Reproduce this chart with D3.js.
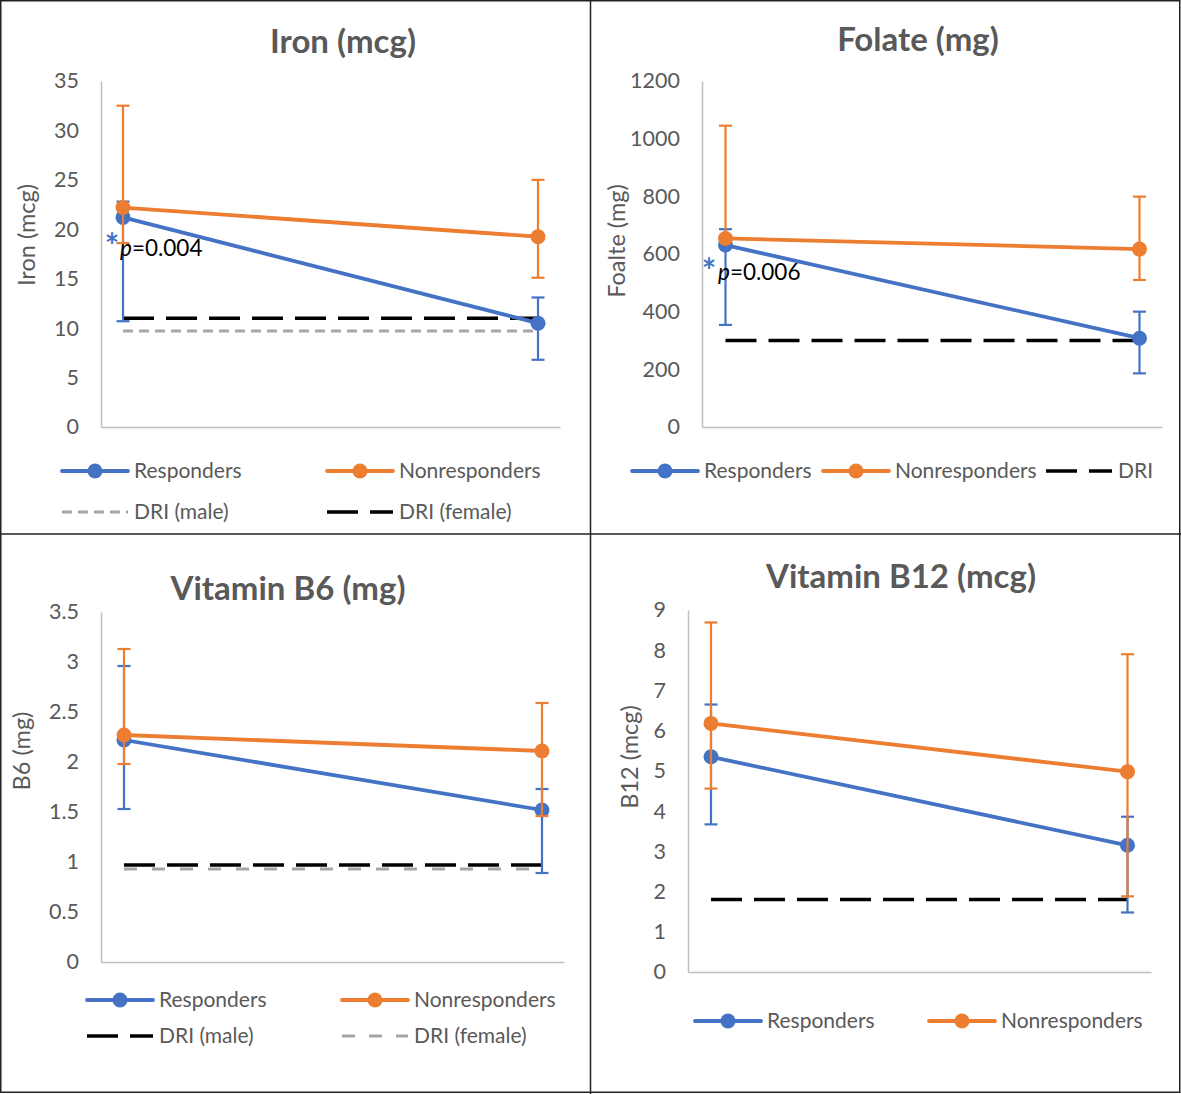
<!DOCTYPE html>
<html>
<head>
<meta charset="utf-8">
<script src="https://cdn.jsdelivr.net/npm/d3@7"></script>
<style>
  html, body { margin: 0; padding: 0; background: #fff; }
  svg { display: block; }
  text { font-family: "Lato", "Open Sans", sans-serif; }
</style>
</head>
<body>
<svg id="chart" width="1181" height="1094"></svg>
<script>
// ---------------- DATA ----------------
const timepoints = ["Baseline", "Follow-up"];
const seriesNames = ["Responders", "Nonresponders"];

// Iron (mcg)
const ironTicks = [0, 5, 10, 15, 20, 25, 30, 35];
const ironResponders = [21.2, 10.5];
const ironRespLow = [10.7, 6.8];
const ironRespHigh = [22.8, 13.1];
const ironNonresponders = [22.2, 19.25];
const ironNonLow = [18.6, 15.1];
const ironNonHigh = [32.5, 25.0];
const ironDRImale = 9.7;
const ironDRIfemale = 11.0;

// Folate (mg)
const folateTicks = [0, 200, 400, 600, 800, 1000, 1200];
const folateResponders = [631, 308];
const folateRespLow = [354, 186];
const folateRespHigh = [686, 400];
const folateNonresponders = [654, 617];
const folateNonLow = [null, 510];
const folateNonHigh = [1045, 799];
const folateDRI = 300;

// Vitamin B6 (mg)
const b6Ticks = [0, 0.5, 1, 1.5, 2, 2.5, 3, 3.5];
const b6Responders = [2.22, 1.52];
const b6RespLow = [1.53, 0.89];
const b6RespHigh = [2.96, 1.73];
const b6Nonresponders = [2.27, 2.11];
const b6NonLow = [1.98, 1.46];
const b6NonHigh = [3.13, 2.59];
const b6DRImale = 0.97;
const b6DRIfemale = 0.93;

// Vitamin B12 (mcg)
const b12Ticks = [0, 1, 2, 3, 4, 5, 6, 7, 8, 9];
const b12Responders = [5.35, 3.15];
const b12RespLow = [3.67, 1.48];
const b12RespHigh = [6.65, 3.86];
const b12Nonresponders = [6.18, 4.98];
const b12NonLow = [4.56, 1.88];
const b12NonHigh = [8.69, 7.9];
const b12DRI = 1.8;

// ---------------- STYLE ----------------
const BLUE = "#4472C4", ORANGE = "#ED7D31", GREY = "#A5A5A5", BLACK = "#000000";
const TEXT = "#595959", AXIS = "#BFBFBF";
const DASH_LONG = "31,12", DASH_SHORT = "10,6", DASH_MED = "13,15";

const svg = d3.select("#chart");

// frame
svg.append("rect").attr("x", 0.75).attr("y", 0.75).attr("width", 1179).attr("height", 1091.5)
  .attr("fill", "none").attr("stroke", "#222").attr("stroke-width", 1.5);
svg.append("line").attr("x1", 590.5).attr("x2", 590.5).attr("y1", 0).attr("y2", 1094)
  .attr("stroke", "#222").attr("stroke-width", 1.5);
svg.append("line").attr("x1", 0).attr("x2", 1181).attr("y1", 534).attr("y2", 534)
  .attr("stroke", "#222").attr("stroke-width", 1.5);

const panels = [
  {
    title: "Iron (mcg)", ytitle: "Iron (mcg)", ticks: ironTicks, max: 35,
    resp: ironResponders, respLow: ironRespLow, respHigh: ironRespHigh,
    non: ironNonresponders, nonLow: ironNonLow, nonHigh: ironNonHigh,
    dri: [ {v: ironDRImale, color: GREY, dash: DASH_SHORT, w: 3, name: "DRI (male)"},
           {v: ironDRIfemale, color: BLACK, dash: DASH_LONG, w: 3.5, name: "DRI (female)"} ],
    layout: {axisX: 101, top: 81, bottom: 427, xEnd: 560, p0: 123, p1: 538,
             titleX: 343, titleY: 53, ytX: 35, ytY: 235},
    pval: {text: "=0.004", x: 120, y: 256, starX: 112, starY: 237},
    legend: [
      {type: "series", color: BLUE, x: 62, y: 471, label: "Responders"},
      {type: "series", color: ORANGE, x: 327, y: 471, label: "Nonresponders"},
      {type: "dri", idx: 0, x: 62, y: 512},
      {type: "dri", idx: 1, x: 327, y: 512}
    ]
  },
  {
    title: "Folate (mg)", ytitle: "Foalte (mg)", ticks: folateTicks, max: 1200,
    resp: folateResponders, respLow: folateRespLow, respHigh: folateRespHigh,
    non: folateNonresponders, nonLow: folateNonLow, nonHigh: folateNonHigh,
    dri: [ {v: folateDRI, color: BLACK, dash: DASH_LONG, w: 3.5, name: "DRI"} ],
    layout: {axisX: 702, top: 81, bottom: 427, xEnd: 1162, p0: 725.5, p1: 1139.5,
             titleX: 918, titleY: 51, ytX: 625, ytY: 241},
    pval: {text: "=0.006", x: 718, y: 280, starX: 709, starY: 262},
    legend: [
      {type: "series", color: BLUE, x: 632, y: 471, label: "Responders"},
      {type: "series", color: ORANGE, x: 823, y: 471, label: "Nonresponders"},
      {type: "dri", idx: 0, x: 1046, y: 471}
    ]
  },
  {
    title: "Vitamin B6 (mg)", ytitle: "B6 (mg)", ticks: b6Ticks, max: 3.5,
    resp: b6Responders, respLow: b6RespLow, respHigh: b6RespHigh,
    non: b6Nonresponders, nonLow: b6NonLow, nonHigh: b6NonHigh,
    dri: [ {v: b6DRIfemale, color: GREY, dash: DASH_MED, w: 3, name: "DRI (female)"},
           {v: b6DRImale, color: BLACK, dash: DASH_LONG, w: 3.5, name: "DRI (male)"} ],
    layout: {axisX: 101, top: 612, bottom: 962, xEnd: 564, p0: 124, p1: 542,
             titleX: 288, titleY: 600, ytX: 30, ytY: 751},
    pval: null,
    legend: [
      {type: "series", color: BLUE, x: 87, y: 1000, label: "Responders"},
      {type: "series", color: ORANGE, x: 342, y: 1000, label: "Nonresponders"},
      {type: "dri", idx: 1, x: 87, y: 1036},
      {type: "dri", idx: 0, x: 342, y: 1036}
    ]
  },
  {
    title: "Vitamin B12 (mcg)", ytitle: "B12 (mcg)", ticks: b12Ticks, max: 9,
    resp: b12Responders, respLow: b12RespLow, respHigh: b12RespHigh,
    non: b12Nonresponders, nonLow: b12NonLow, nonHigh: b12NonHigh,
    dri: [ {v: b12DRI, color: BLACK, dash: DASH_LONG, w: 3.5, name: "DRI"} ],
    layout: {axisX: 688, top: 610, bottom: 972, xEnd: 1151, p0: 711, p1: 1127.5,
             titleX: 901, titleY: 588, ytX: 638, ytY: 757},
    pval: null,
    legend: [
      {type: "series", color: BLUE, x: 695, y: 1021, label: "Responders"},
      {type: "series", color: ORANGE, x: 929, y: 1021, label: "Nonresponders"}
    ]
  }
];

panels.forEach(p => {
  const L = p.layout;
  const g = svg.append("g");
  const x = d3.scalePoint().domain(timepoints).range([L.p0, L.p1]);
  const y = d3.scaleLinear().domain([0, p.max]).range([L.bottom, L.top]);

  // title
  g.append("text").attr("x", L.titleX).attr("y", L.titleY).attr("text-anchor", "middle")
    .attr("font-size", 33).attr("font-weight", "bold").attr("fill", TEXT).text(p.title);

  // y-axis title
  g.append("text").attr("transform", `translate(${L.ytX},${L.ytY}) rotate(-90)`)
    .attr("text-anchor", "middle").attr("font-size", 23.5).attr("fill", TEXT).text(p.ytitle);

  // y axis
  const yAxis = d3.axisLeft(y).tickValues(p.ticks).tickSize(0).tickPadding(22)
    .tickFormat(d3.format("~g"));
  const ag = g.append("g").attr("transform", `translate(${L.axisX},0)`).call(yAxis);
  ag.select(".domain").attr("stroke", AXIS).attr("stroke-width", 1.5);
  ag.selectAll(".tick text").attr("font-size", 21.5).attr("fill", TEXT)
    .attr("font-family", "Lato, 'Open Sans', sans-serif");

  // x axis (no labels)
  const xAxis = d3.axisBottom(d3.scaleLinear().range([L.axisX, L.xEnd])).tickValues([]).tickSizeOuter(0);
  const xg = g.append("g").attr("transform", `translate(0,${L.bottom})`).call(xAxis);
  xg.select(".domain").attr("stroke", AXIS).attr("stroke-width", 1.5);

  // DRI lines
  p.dri.forEach(d => {
    g.append("line").attr("x1", x(timepoints[0])).attr("x2", x(timepoints[1]))
      .attr("y1", y(d.v)).attr("y2", y(d.v))
      .attr("stroke", d.color).attr("stroke-width", d.w).attr("stroke-dasharray", d.dash);
  });

  const series = [
    {vals: p.resp, lo: p.respLow, hi: p.respHigh, color: BLUE},
    {vals: p.non, lo: p.nonLow, hi: p.nonHigh, color: ORANGE}
  ];
  const line = d3.line().x((d, i) => x(timepoints[i])).y(d => y(d));

  series.forEach(s => {
    // error bars
    s.vals.forEach((v, i) => {
      const cx = x(timepoints[i]);
      [s.lo[i], s.hi[i]].forEach(e => {
        if (e == null) return;
        g.append("line").attr("x1", cx).attr("x2", cx).attr("y1", y(v)).attr("y2", y(e))
          .attr("stroke", s.color).attr("stroke-width", 2.2);
        g.append("line").attr("x1", cx - 6.5).attr("x2", cx + 6.5).attr("y1", y(e)).attr("y2", y(e))
          .attr("stroke", s.color).attr("stroke-width", 2.2);
      });
    });
    g.append("path").datum(s.vals).attr("d", line).attr("fill", "none")
      .attr("stroke", s.color).attr("stroke-width", 3.8).attr("stroke-linecap", "round");
    g.selectAll(null).data(s.vals).enter().append("circle")
      .attr("cx", (d, i) => x(timepoints[i])).attr("cy", d => y(d)).attr("r", 7.5)
      .attr("fill", s.color);
  });

  // p-value annotation
  if (p.pval) {
    g.append("text").attr("x", p.pval.starX).attr("y", p.pval.starY + 21).attr("text-anchor", "middle")
      .attr("font-size", 34).attr("font-weight", "bold")
      .attr("font-family", "'DejaVu Sans', sans-serif").attr("fill", BLUE).text("*");
    const t = g.append("text").attr("x", p.pval.x).attr("y", p.pval.y).attr("font-size", 22.5)
      .attr("fill", BLACK);
    t.append("tspan").attr("font-style", "italic").text("p");
    t.append("tspan").text(p.pval.text);
  }

  // legend
  p.legend.forEach(it => {
    const lg = g.append("g").attr("transform", `translate(${it.x},${it.y})`);
    let label;
    if (it.type === "series") {
      lg.append("line").attr("x1", 0).attr("x2", 66).attr("y1", 0).attr("y2", 0)
        .attr("stroke", it.color).attr("stroke-width", 3.8).attr("stroke-linecap", "round");
      lg.append("circle").attr("cx", 33).attr("cy", 0).attr("r", 7.5).attr("fill", it.color);
      label = it.label;
    } else {
      const d = p.dri[it.idx];
      lg.append("line").attr("x1", 0).attr("x2", 66).attr("y1", 0).attr("y2", 0)
        .attr("stroke", d.color).attr("stroke-width", d.w)
        .attr("stroke-dasharray", d.dash === DASH_LONG ? "31,12" : d.dash === DASH_MED ? "13,14" : "10,6");
      label = d.name;
    }
    lg.append("text").attr("x", 72).attr("y", 0).attr("dy", "0.35em")
      .attr("font-size", 21).attr("fill", TEXT).text(label);
  });
});
</script>
</body>
</html>
